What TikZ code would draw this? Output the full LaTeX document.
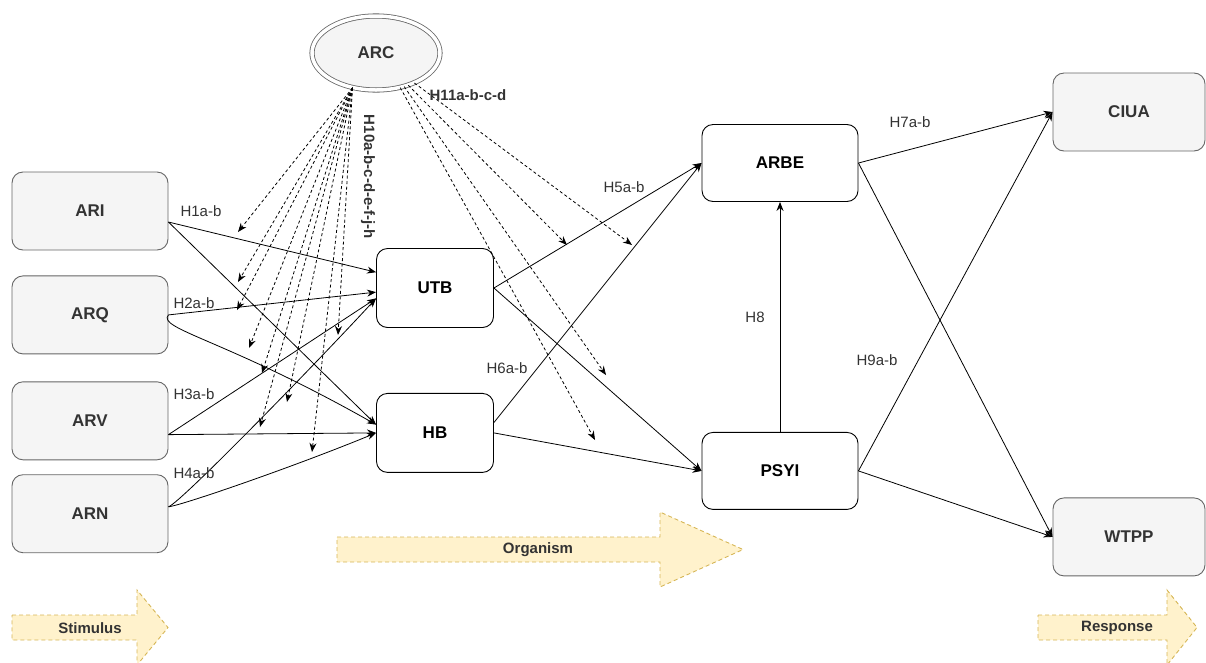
\documentclass[tikz,border=0pt]{standalone}
\usepackage{fontspec}
\setmainfont{Liberation Sans}
\usetikzlibrary{positioning,arrows.meta,shapes.geometric}
\definecolor{boxgrey}{HTML}{F5F5F5}
\definecolor{boxline}{HTML}{666666}
\definecolor{boxtext}{HTML}{333333}
\definecolor{flowfill}{HTML}{FFF2CC}
\definecolor{flowline}{HTML}{D6B656}

\begin{document}
\begin{tikzpicture}[x=1pt,y=-1pt,
	greybox/.style={rectangle, rounded corners=11pt, draw=boxline, fill=boxgrey, text=boxtext, line width=0.9pt, minimum width=156pt, minimum height=78pt, font={\fontsize{17}{20}\selectfont\bfseries}},
	whitebox/.style={rectangle, rounded corners=11pt, draw=black, fill=white, line width=0.9pt, minimum width=156pt, minimum height=77pt, font={\fontsize{17}{20}\selectfont\bfseries}},
	link/.style={-{Stealth[length=9pt,width=7pt]}, line width=0.8pt},
	modlink/.style={link, dash pattern=on 3pt off 2.5pt},
	hlabel/.style={font={\fontsize{15}{18}\selectfont}, text=boxtext, inner sep=1pt},
	flow/.style={draw=flowline, fill=flowfill, line width=0.9pt, dash pattern=on 4pt off 3pt},
	flowtext/.style={font={\fontsize{15}{18}\selectfont\bfseries}, text=boxtext},
	]
						\path[use as bounding box, clip] (0,0) rectangle (1206,662);

						% stimulus - organism - response
						\draw[flow] (12,615) -- (137,615) -- (137,590) -- (168,627.5) -- (137,665) -- (137,640) -- (12,640) -- cycle;
						\draw[flow] (337,537) -- (660,537) -- (660,512) -- (743,549.5) -- (660,587) -- (660,562) -- (337,562) -- cycle;
						\draw[flow] (1038,615) -- (1167,615) -- (1167,590) -- (1197,627.5) -- (1167,665) -- (1167,640) -- (1038,640) -- cycle;
						\node[flowtext](stimulus) at (90,628){Stimulus};
						\node[flowtext](organism) at (538,550){Organism};
						\node[flowtext](response) at (1117,628){Response};

						\node[greybox](ari) at (90,211){ARI};
						\node[greybox](arq)[below=25pt of ari]{ARQ};
						\node[greybox](arv)[below=27pt of arq]{ARV};
						\node[greybox](arn)[below=14pt of arv]{ARN};
						\node[whitebox, minimum width=117pt, minimum height=79pt](utb) at (435,288){UTB};
						\node[whitebox, minimum width=117pt, minimum height=79pt](hb)[below=65pt of utb]{HB};
						\node[whitebox](arbe) at (780,163){ARBE};
						\node[whitebox](psyi)[below=230pt of arbe]{PSYI};
						\node[greybox, minimum width=152pt](ciua) at (1129,112){CIUA};
						\node[greybox, minimum width=152pt](wtpp)[below=346pt of ciua]{WTPP};
						\node[ellipse, draw=boxline, double=white, double distance=3.5pt, line width=0.8pt, fill=boxgrey, text=boxtext, minimum width=128pt, minimum height=74pt, inner sep=0pt, font={\fontsize{17}{20}\selectfont\bfseries}](arc) at (376,53){ARC};

						% stimulus to organism
						\draw[link](ari.-8) -- (utb.165);
						\draw[link](ari.-8) -- (hb.172);
						\draw[link](arq.east) -- (utb.184);
						\draw[link](arq.east) .. controls +(-12,14) and +(-150,-85) .. (hb.172);
						\draw[link](arv.-10) -- (utb.190);
						\draw[link](arv.-10) -- (hb.west);
						\draw[link](arn.5) .. controls +(12,-4) and +(-60,65) .. (utb.190);
						\draw[link](arn.5) .. controls +(15,-2) and +(-80,33) .. (hb.west);

						% organism to response
						\draw[link](utb.east) -- (arbe.west);
						\draw[link](utb.east) -- (psyi.west);
						\draw[link](hb.10) -- (arbe.west);
						\draw[link](hb.east) -- (psyi.west);
						\draw[link](psyi.north) -- (arbe.south);
						\draw[link](arbe.east) -- (ciua.west);
						\draw[link](arbe.east) -- (wtpp.west);
						\draw[link](psyi.east) -- (ciua.west);
						\draw[link](psyi.east) -- (wtpp.west);

						% moderating paths of ARC
						\coordinate (m1) at (238,232);
						\coordinate (m2) at (238,282);
						\coordinate (m3) at (237,310);
						\coordinate (m4) at (249,348);
						\coordinate (m5) at (262,373);
						\coordinate (m6) at (287,402);
						\coordinate (m7) at (260,427);
						\coordinate (m8) at (312,452);
						\coordinate (m9) at (338,335);
						\coordinate (n1) at (567,245);
						\coordinate (n2) at (632,245);
						\coordinate (n3) at (606,375);
						\coordinate (n4) at (595,440);
						\draw[modlink](arc.236) -- (m1);
						\draw[modlink](arc.236) -- (m2);
						\draw[modlink](arc.236) -- (m3);
						\draw[modlink](arc.236) -- (m4);
						\draw[modlink](arc.236) -- (m5);
						\draw[modlink](arc.236) -- (m6);
						\draw[modlink](arc.236) -- (m7);
						\draw[modlink](arc.236) -- (m8);
						\draw[modlink](arc.236) -- (m9);
						\draw[modlink](arc.-45) -- (n1);
						\draw[modlink](arc.-38) -- (n2);
						\draw[modlink](arc.-50) -- (n3);
						\draw[modlink](arc.-55) -- (n4);

						% hypotheses
						\node[hlabel](h1) at (201,211){H1a-b};
						\node[hlabel](h2) at (194,303){H2a-b};
						\node[hlabel](h3) at (194,394){H3a-b};
						\node[hlabel](h4) at (194,473){H4a-b};
						\node[hlabel](h5) at (624,187){H5a-b};
						\node[hlabel](h6) at (507,368){H6a-b};
						\node[hlabel](h7) at (910,122){H7a-b};
						\node[hlabel](h8) at (755,317){H8};
						\node[hlabel](h9) at (877,360){H9a-b};
						\node[hlabel, font={\fontsize{15}{18}\selectfont\bfseries}, rotate=-90](h10) at (368,177){H10a-b-c-d-e-f-j-h};
						\node[hlabel, font={\fontsize{15}{18}\selectfont\bfseries}](h11) at (468,95){H11a-b-c-d};
				\end{tikzpicture}
\end{document}
